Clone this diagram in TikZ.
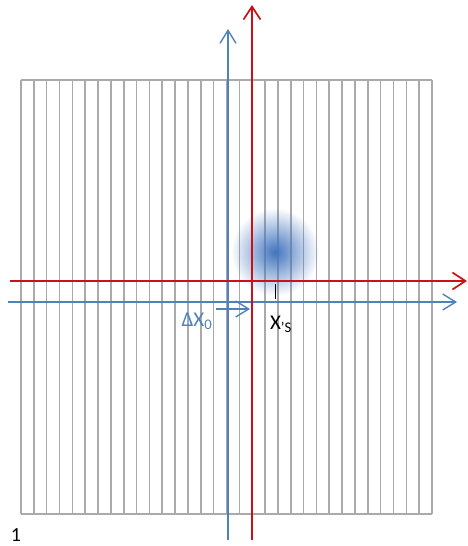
\documentclass[tikz,border=0pt]{standalone}
\usepackage{fontspec}
\setmainfont{Carlito}
\usetikzlibrary{arrows.meta,fadings}
\definecolor{gridgray}{RGB}{170,170,170}
\definecolor{axred}{RGB}{204,16,24}
\definecolor{axblue}{RGB}{79,129,189}
\definecolor{blobblue}{RGB}{66,116,190}
\tikzfading[name=blobfade, inner color=transparent!0, outer color=transparent!100]
\begin{document}
\begin{tikzpicture}[x=1pt,y=-1pt,
  gridline/.style={draw=gridgray,line width=1.6pt},
  redax/.style={draw=axred,line width=1.7pt,-{Straight Barb[length=13pt,width=17pt,line width=1.7pt]}},
  blueax/.style={draw=axblue,line width=1.4pt,-{Straight Barb[length=13pt,width=16pt,line width=1.4pt]}},
  lbl/.style={inner sep=0pt,font=\fontsize{21}{21}\selectfont}]
\useasboundingbox (0,0) rectangle (468,546);
% grid
\foreach \i in {0,...,32}
  \draw[gridline] ({21+\i*12.844},80) -- ({21+\i*12.844},514);
\draw[gridline] (21,80) -- (432,80);
\draw[gridline] (21,514) -- (432,514);
% blob
\fill[blobblue,path fading=blobfade] (275,252) circle (44);
% axes
\coordinate (rb) at (252,540);
\coordinate (rt) at (252,5);
\coordinate (rl) at (10,281);
\coordinate (rr) at (467,281);
\coordinate (bb) at (228,540);
\coordinate (bt) at (228,29);
\coordinate (bl) at (8,302);
\coordinate (br) at (457,302);
\coordinate (sa) at (216,309);
\coordinate (sb) at (250,309);
\draw[blueax] (bb) -- (bt);
\draw[blueax] (bl) -- (br);
\draw[redax] (rb) -- (rt);
\draw[redax] (rl) -- (rr);
\draw[blueax] (sa) -- (sb);
% tick
\draw[black,line width=1.3pt] (275.5,284) -- (275.5,299);
% labels
\node[lbl,text=axblue] (dx) at (197,321) {ΔX\textsubscript{0}};
\node[lbl] (xs) at (281,324) {X\textsubscript{'S}};
\node[lbl,font=\fontsize{20}{20}\selectfont] (one) at (16,535) {1};
\end{tikzpicture}
\end{document}
